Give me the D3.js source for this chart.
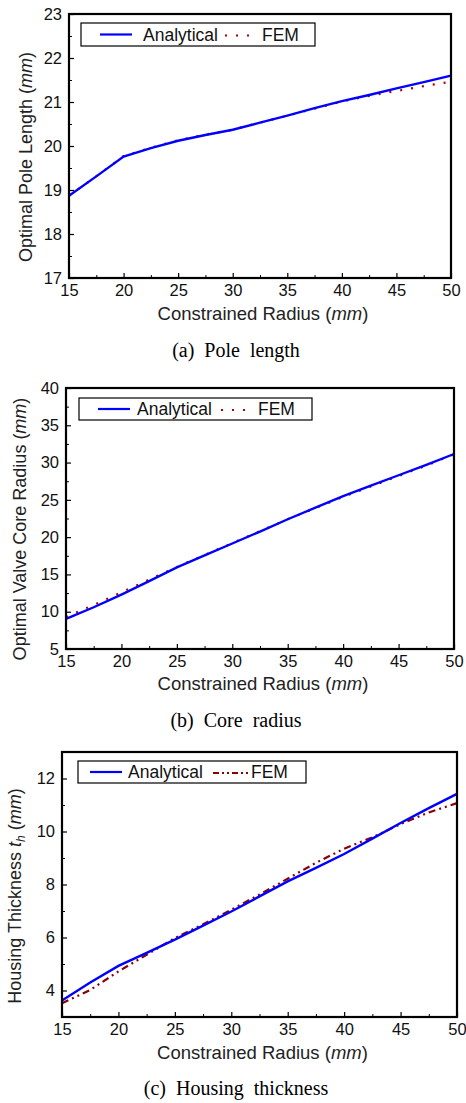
<!DOCTYPE html>
<html>
<head>
<meta charset="utf-8">
<script src="https://cdn.jsdelivr.net/npm/d3@7"></script>
<style>
  body { margin: 0; background: #fff; }
  svg { display: block; }
  .tick text { font-family: "Liberation Sans", Arial, sans-serif; fill: #111; }
</style>
</head>
<body>
<svg id="chart" width="466" height="1103"></svg>
<script>
// shared x values (constrained radius, mm)
const radius = [15, 17.5, 20, 22.5, 25, 27.5, 30, 32.5, 35, 37.5, 40, 42.5, 45, 47.5, 50];

// (a) optimal pole length
const poleAnalytical = [18.87, 19.31, 19.76, 19.95, 20.12, 20.25, 20.37, 20.53, 20.69, 20.86, 21.02, 21.16, 21.31, 21.45, 21.6];
const poleFEM = [18.87, 19.31, 19.77, 19.96, 20.13, 20.26, 20.37, 20.53, 20.69, 20.85, 21.01, 21.14, 21.25, 21.36, 21.46];

// (b) optimal valve core radius
const coreAnalytical = [9.05, 10.6, 12.3, 14.1, 15.95, 17.55, 19.15, 20.75, 22.4, 23.95, 25.5, 26.9, 28.3, 29.7, 31.15];
const coreFEM = [9.3, 10.9, 12.6, 14.3, 16.0, 17.6, 19.2, 20.8, 22.4, 23.9, 25.4, 26.8, 28.2, 29.6, 31.1];

// (c) housing thickness
const housingAnalytical = [3.62, 4.3, 4.93, 5.42, 5.92, 6.45, 6.98, 7.55, 8.12, 8.63, 9.15, 9.73, 10.32, 10.88, 11.42];
const housingFEM = [3.52, 4.02, 4.72, 5.35, 5.98, 6.5, 7.05, 7.62, 8.22, 8.82, 9.35, 9.78, 10.28, 10.72, 11.07];

const xTicks = [15, 20, 25, 30, 35, 40, 45, 50];
const poleTicks = [17, 18, 19, 20, 21, 22, 23];
const coreTicks = [5, 10, 15, 20, 25, 30, 35, 40];
const housingTicks = [4, 6, 8, 10, 12];

const svg = d3.select("#chart");
const SANS = "'Liberation Sans', Arial, sans-serif";
const SERIF = "'Liberation Serif', 'Times New Roman', serif";

function panel(o) {
    const x = d3.scaleLinear().domain([15, 50]).range([o.L, o.R]);
    const y = d3.scaleLinear().domain(o.yDom).range([o.B, o.T]);
    const g = svg.append("g");

    // minor ticks
    const minorX = d3.range(17.5, 50, 5);
    const minorY = d3.range(o.yDom[0] + o.yMinor, o.yDom[1], o.yMinor).filter(v => !o.yTicks.includes(+v.toFixed(3)));
    g.append("g").attr("transform", `translate(0,${o.B})`)
        .call(d3.axisBottom(x).tickValues(minorX).tickSize(-3).tickFormat(""))
        .call(a => a.select(".domain").remove())
        .selectAll("line").attr("stroke", "#000").attr("stroke-width", 1);
    g.append("g").attr("transform", `translate(${o.L},0)`)
        .call(d3.axisLeft(y).tickValues(minorY).tickSize(-3).tickFormat(""))
        .call(a => a.select(".domain").remove())
        .selectAll("line").attr("stroke", "#000").attr("stroke-width", 1);

    // major ticks + labels
    const xa = g.append("g").attr("transform", `translate(0,${o.B})`)
        .call(d3.axisBottom(x).tickValues(xTicks).tickSizeInner(-5).tickSizeOuter(0).tickPadding(8).tickFormat(d3.format("d")));
    xa.select(".domain").remove();
    xa.selectAll("line").attr("stroke", "#000").attr("stroke-width", 1.2);
    xa.selectAll("text").attr("font-size", 16.5).attr("font-family", SANS).attr("dy", "0.6em");

    const ya = g.append("g").attr("transform", `translate(${o.L},0)`)
        .call(d3.axisLeft(y).tickValues(o.yTicks).tickSizeInner(-5).tickSizeOuter(0).tickPadding(7).tickFormat(d3.format("d")));
    ya.select(".domain").remove();
    ya.selectAll("line").attr("stroke", "#000").attr("stroke-width", 1.2);
    ya.selectAll("text").attr("font-size", 16.5).attr("font-family", SANS);

    // series
    const line = d3.line().x((d, i) => x(radius[i])).y(d => y(d));
    g.append("path").datum(o.fem).attr("d", line).attr("fill", "none")
        .attr("stroke", o.femColor).attr("stroke-width", 2.2).attr("stroke-dasharray", o.femDash);
    g.append("path").datum(o.ana).attr("d", line).attr("fill", "none")
        .attr("stroke", "#0000ff").attr("stroke-width", 2.4);

    // frame
    g.append("rect").attr("x", o.L).attr("y", o.T).attr("width", o.R - o.L).attr("height", o.B - o.T)
        .attr("fill", "none").attr("stroke", "#000").attr("stroke-width", 2.2);

    // legend
    const lg = o.leg;
    g.append("rect").attr("x", lg.x0).attr("y", lg.y0).attr("width", lg.x1 - lg.x0).attr("height", lg.y1 - lg.y0)
        .attr("fill", "#fff").attr("stroke", "#000").attr("stroke-width", 1.2);
    const ly = (lg.y0 + lg.y1) / 2;
    g.append("line").attr("x1", lg.aLine[0]).attr("x2", lg.aLine[1]).attr("y1", ly).attr("y2", ly)
        .attr("stroke", "#0000ff").attr("stroke-width", 2.2);
    g.append("text").attr("x", lg.aText).attr("y", ly + 6).attr("font-family", SANS).attr("font-size", 17.5)
        .attr("fill", "#111").text("Analytical");
    g.append("line").attr("x1", lg.fLine[0]).attr("x2", lg.fLine[1]).attr("y1", ly + 1).attr("y2", ly + 1)
        .attr("stroke", o.femColor).attr("stroke-width", 2).attr("stroke-dasharray", o.legDash);
    g.append("text").attr("x", lg.fText).attr("y", ly + 6).attr("font-family", SANS).attr("font-size", 17.5)
        .attr("fill", "#111").text("FEM");

    // axis titles
    const xt = g.append("text").attr("x", (o.L + o.R) / 2 + 3).attr("y", o.xTitleY).attr("text-anchor", "middle")
        .attr("font-family", SANS).attr("font-size", 18.5).attr("fill", "#222");
    xt.append("tspan").text("Constrained Radius (");
    xt.append("tspan").attr("font-style", "italic").text("mm");
    xt.append("tspan").text(")");

    const yt = g.append("text").attr("transform", `translate(${o.yTitleX},${o.yTitleY}) rotate(-90)`)
        .attr("text-anchor", "middle").attr("font-family", SANS).attr("font-size", 18).attr("fill", "#222");
    o.yTitle(yt);

    // caption
    svg.append("text").attr("x", 236).attr("y", o.capY).attr("text-anchor", "middle")
        .attr("font-family", SERIF).attr("font-size", 20).attr("fill", "#000")
        .attr("xml:space", "preserve").style("white-space", "pre").text(o.caption);
}

panel({
    L: 69, R: 451, T: 14, B: 278, yDom: [17, 23], yTicks: poleTicks, yMinor: 0.5,
    ana: poleAnalytical, fem: poleFEM, femColor: "#b00000", femDash: "2,9", legDash: "2,9",
    leg: { x0: 81, x1: 315, y0: 23, y1: 46, aLine: [100, 132], aText: 143, fLine: [225, 252], fText: 262 },
    xTitleY: 320, yTitleX: 32, yTitleY: 157,
    yTitle: t => { t.append("tspan").text("Optimal Pole Length ("); t.append("tspan").attr("font-style", "italic").text("mm"); t.append("tspan").text(")"); },
    capY: 357, caption: "(a)  Pole  length"
});

panel({
    L: 66, R: 454, T: 388, B: 649, yDom: [5, 40], yTicks: coreTicks, yMinor: 2.5,
    ana: coreAnalytical, fem: coreFEM, femColor: "#b00000", femDash: "2,9", legDash: "2,9",
    leg: { x0: 79, x1: 312, y0: 398, y1: 420, aLine: [98, 130], aText: 137, fLine: [221, 248], fText: 258 },
    xTitleY: 690, yTitleX: 26, yTitleY: 529,
    yTitle: t => { t.append("tspan").text("Optimal Valve Core Radius ("); t.append("tspan").attr("font-style", "italic").text("mm"); t.append("tspan").text(")"); },
    capY: 727, caption: "(b)  Core  radius"
});

panel({
    L: 62, R: 457, T: 752, B: 1017, yDom: [3, 13], yTicks: housingTicks, yMinor: 1,
    ana: housingAnalytical, fem: housingFEM, femColor: "#8b0000", femDash: "7,4,2,4,2,4", legDash: "6,3,2,3,2,3",
    leg: { x0: 78, x1: 306, y0: 761, y1: 783, aLine: [90, 122], aText: 128, fLine: [213, 248], fText: 251 },
    xTitleY: 1059, yTitleX: 21, yTitleY: 896,
    yTitle: t => {
        t.append("tspan").text("Housing Thickness ");
        t.append("tspan").attr("font-style", "italic").text("t");
        t.append("tspan").attr("font-style", "italic").attr("font-size", 12).attr("dy", 4).text("h");
        t.append("tspan").attr("dy", -4).text(" (");
        t.append("tspan").attr("font-style", "italic").text("mm");
        t.append("tspan").text(")");
    },
    capY: 1095, caption: "(c)  Housing  thickness"
});
</script>
</body>
</html>
